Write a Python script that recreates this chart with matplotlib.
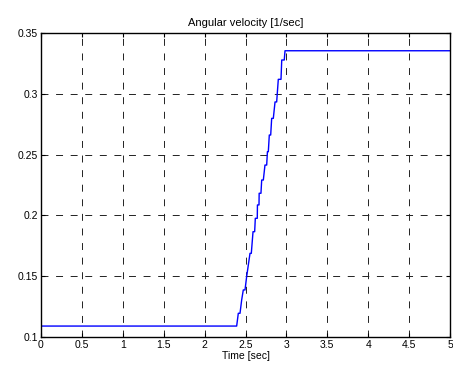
import matplotlib
matplotlib.use("Agg")
import matplotlib.pyplot as plt

plt.rcParams['font.family'] = ['Liberation Sans', 'DejaVu Sans']
plt.rcParams['lines.scale_dashes'] = False

# Angular velocity trace (time in seconds, value in 1/sec)
time_s = [0.0, 2.392, 2.412, 2.433, 2.453, 2.473, 2.494, 2.514, 2.555, 2.571,
          2.592, 2.612, 2.620, 2.644, 2.646, 2.665, 2.667, 2.689, 2.698, 2.718,
          2.738, 2.759, 2.768, 2.779, 2.791, 2.808, 2.820, 2.840, 2.861, 2.881,
          2.901, 2.934, 2.943, 2.974, 2.983, 5.0]
omega = [0.109, 0.109, 0.1195, 0.1195, 0.1304, 0.1387, 0.1387, 0.1496, 0.1688, 0.1688,
         0.1866, 0.1866, 0.1976, 0.1976, 0.2086, 0.2086, 0.2182, 0.2182, 0.2291, 0.2291,
         0.2414, 0.2414, 0.2524, 0.2524, 0.2661, 0.2661, 0.2798, 0.2798, 0.2933, 0.2933,
         0.3119, 0.3119, 0.3278, 0.3278, 0.3354, 0.3354]

x_ticks = [0, 0.5, 1, 1.5, 2, 2.5, 3, 3.5, 4, 4.5, 5]
x_labels = ['0', '0.5', '1', '1.5', '2', '2.5', '3', '3.5', '4', '4.5', '5']
y_ticks = [0.1, 0.15, 0.2, 0.25, 0.3, 0.35]
y_labels = ['0.1', '0.15', '0.2', '0.25', '0.3', '0.35']

fig = plt.figure(figsize=(4.53, 3.69), dpi=100)
ax = fig.add_axes([41 / 453, 32 / 369, 409 / 453, 304 / 369])

ax.plot(time_s, omega, color='#0000ff', linewidth=1.0)

ax.set_xlim(0, 5)
ax.set_ylim(0.1, 0.35)
ax.set_xticks(x_ticks)
ax.set_xticklabels(x_labels)
ax.set_yticks(y_ticks)
ax.set_yticklabels(y_labels)

ax.grid(True, color='#222222', linestyle=(0, (5.0, 5.5)), linewidth=0.7)
ax.tick_params(direction='in', length=3, width=0.8, labelsize=7.5,
               top=True, right=True, pad=2, colors='black')
for s in ax.spines.values():
    s.set_linewidth(1.0)
    s.set_color('black')

ax.set_title('Angular velocity [1/sec]', fontsize=8, pad=5)
ax.set_xlabel('Time [sec]', fontsize=7.5, labelpad=1)

fig.savefig('out.png', dpi=100)
